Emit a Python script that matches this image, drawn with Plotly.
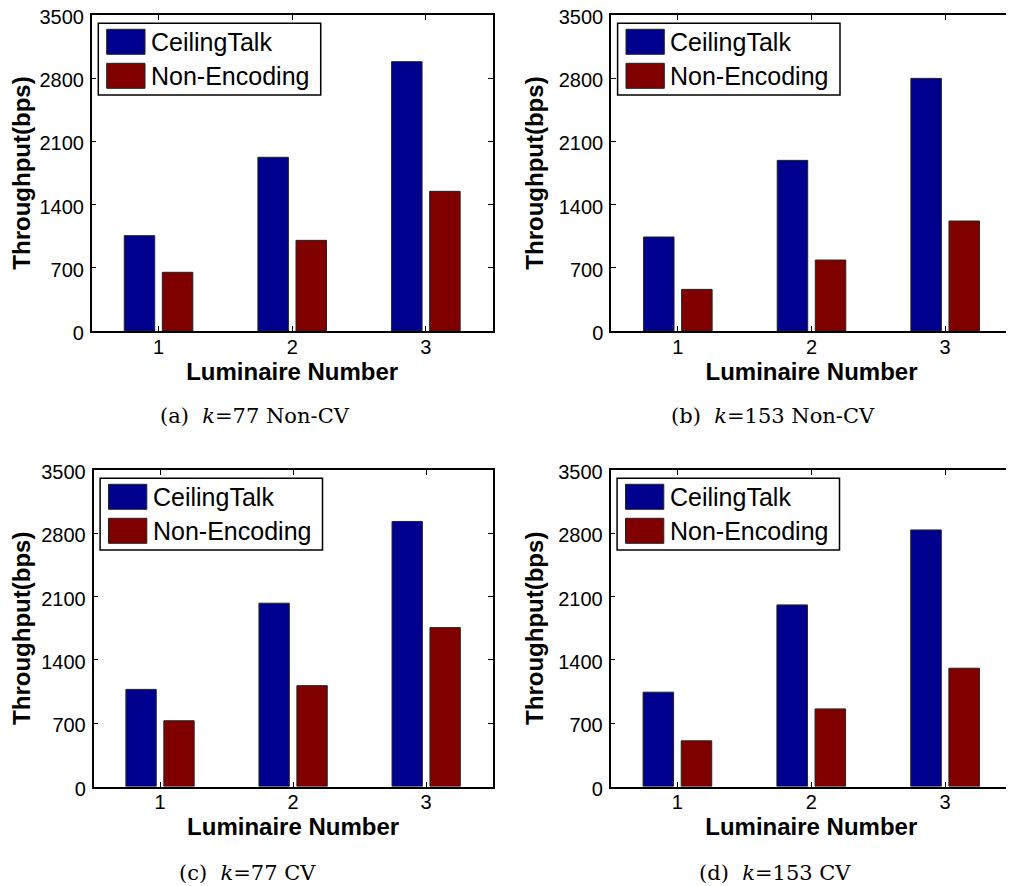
import plotly.graph_objects as go

# ---------------- data ----------------
luminaires = [1, 2, 3]
tick_labels = ["1", "2", "3"]
y_ticks = [0, 700, 1400, 2100, 2800, 3500]

ceilingtalk_a = [1056, 1924, 2983]
nonencoding_a = [650, 1004, 1547]
ceilingtalk_b = [1041, 1890, 2798]
nonencoding_b = [461, 786, 1218]
ceilingtalk_c = [1074, 2027, 2931]
nonencoding_c = [727, 1115, 1757]
ceilingtalk_d = [1043, 2008, 2837]
nonencoding_d = [505, 858, 1308]

series_names = ["CeilingTalk", "Non-Encoding"]
captions = ["(a)  <i>k</i>=77 Non-CV", "(b)  <i>k</i>=153 Non-CV",
            "(c)  <i>k</i>=77 CV", "(d)  <i>k</i>=153 CV"]

# ---------------- styles ----------------
BLUE = "#00008F"
RED = "#800000"
SANS = "Liberation Sans, Arial, sans-serif"
SERIF = "DejaVu Serif, serif"
OFF = 8                      # page body margin of the html page
W, H = 1014 - OFF, 886 - OFF

panels = [
    (ceilingtalk_a, nonencoding_a),
    (ceilingtalk_b, nonencoding_b),
    (ceilingtalk_c, nonencoding_c),
    (ceilingtalk_d, nonencoding_d),
]
# pixel boxes of the plot areas in the window: (left, right, top, bottom)
boxes = [
    (91.7, 492.7, 15, 331),
    (611, 1012, 15, 331),
    (93.5, 492.7, 470, 786.5),
    (610.5, 1012, 470, 786.5),
]
caption_pos = [(255, 416), (773, 416), (247, 873), (775, 873)]

fig = go.Figure()
layout = dict(
    template="none",
    width=W, height=H,
    margin=dict(l=0, r=0, t=0, b=0, autoexpand=False),
    paper_bgcolor="white", plot_bgcolor="white",
    barmode="group", bargap=0.43, bargroupgap=0.2,
    showlegend=False,
    shapes=[], annotations=[],
)

for i, ((ct, ne), (l, r, t, b)) in enumerate(zip(panels, boxes)):
    l, r, t, b = l - OFF, r - OFF, t - OFF, b - OFF
    n = "" if i == 0 else str(i + 1)
    xa, ya = "x" + n, "y" + n
    for vals, name, col in ((ct, series_names[0], BLUE), (ne, series_names[1], RED)):
        fig.add_trace(go.Bar(
            x=luminaires, y=vals, name=name, xaxis=xa, yaxis=ya,
            marker=dict(color=col, line=dict(color="#222222", width=1)),
        ))
    axis_common = dict(
        automargin=False, ticklabeloverflow="allow",
        showline=True, linecolor="black", linewidth=1.5, mirror="ticks",
        ticks="inside", ticklen=5, tickcolor="black", tickwidth=1,
        showgrid=False, zeroline=False,
        tickfont=dict(family=SANS, size=20, color="black"),
    )
    layout["xaxis" + n] = dict(
        axis_common, domain=[l / W, r / W], anchor=ya, range=[0.5, 3.5],
        tickvals=luminaires, ticktext=tick_labels, ticklabelstandoff=-3,
        title=dict(text="<b>Luminaire Number</b>", standoff=2,
                   font=dict(family=SANS, size=24, color="black")),
    )
    layout["yaxis" + n] = dict(
        axis_common, domain=[1 - b / H, 1 - t / H], anchor=xa, range=[0, 3500],
        tickvals=y_ticks, ticklabelstandoff=2, ticklabelshift=2,
        title=dict(text="<b>Throughput(bps)</b>", standoff=8,
                   font=dict(family=SANS, size=24, color="black")),
    )
    # legend box (drawn in axis-domain coordinates)
    xd, yd = xa + " domain", ya + " domain"
    pw, ph = r - l, b - t
    layout["shapes"].append(dict(type="rect", xref=xd, yref=yd,
                                 x0=6.6 / pw, x1=229 / pw, y0=1 - 80 / ph, y1=1 - 8.3 / ph,
                                 line=dict(color="black", width=1.5), fillcolor="white"))
    for k, (name, col) in enumerate(zip(series_names, [BLUE, RED])):
        top = 14.3 + k * 34
        layout["shapes"].append(dict(type="rect", xref=xd, yref=yd,
                                     x0=15 / pw, x1=53.3 / pw,
                                     y0=1 - (top + 25) / ph, y1=1 - top / ph,
                                     line=dict(color="#222222", width=1), fillcolor=col))
        layout["annotations"].append(dict(
            xref=xd, yref=yd, x=57 / pw, y=1 - (top + 12.5) / ph,
            xanchor="left", yanchor="middle", showarrow=False, text=name,
            font=dict(family=SANS, size=25, color="black")))
    cx, cy = caption_pos[i]
    cx, cy = cx - OFF, cy - OFF
    layout["annotations"].append(dict(
        xref="paper", yref="paper", x=cx / W, y=1 - cy / H,
        xanchor="center", yanchor="middle", showarrow=False, text=captions[i],
        font=dict(family=SERIF, size=21, color="black")))

fig.update_layout(**layout)
fig.write_html("out.html")
